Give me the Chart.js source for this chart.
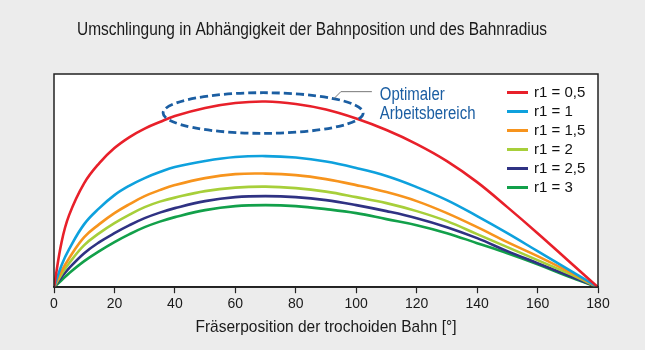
<!DOCTYPE html>
<html lang="de">
<head>
<meta charset="utf-8">
<title>Umschlingung</title>
<script src="https://cdn.jsdelivr.net/npm/chart.js@4.4.1/dist/chart.umd.min.js"></script>
<style>
    html, body { margin: 0; padding: 0; background: #ececec; }
    #wrap { width: 645px; height: 350px; position: relative; }
</style>
</head>
<body>
<div id="wrap"><canvas id="umschlingung-chart"></canvas></div>
<script>
// Fräserposition in Grad (x-Achse)
const positionen = [0, 2.5, 5, 10, 15, 20, 25, 30, 35, 40, 50, 60, 70, 80, 90, 100, 110, 120, 130, 140, 150, 160, 170, 180];
const xTicks = [0, 20, 40, 60, 80, 100, 120, 140, 160, 180];

// Umschlingung je Bahnradius r1 (relative Einheiten)
const r1Labels = ['r1 = 0,5', 'r1 = 1', 'r1 = 1,5', 'r1 = 2', 'r1 = 2,5', 'r1 = 3'];
const umschlingungR05 = [0, 45, 72, 104, 124, 139, 150, 158.5, 165, 171, 179, 184, 185.5, 183, 177.5, 168.5, 157, 143, 126, 105, 80, 54, 27, 0];
const umschlingungR10 = [0, 22, 38, 63, 79, 92, 101.5, 109, 115, 120, 126, 130, 131, 129.5, 125.5, 119, 111, 100, 87, 71, 54, 36, 18, 0];
const umschlingungR15 = [0, 16, 29, 50, 63, 74, 83, 91, 97, 102, 109, 113, 113.5, 112, 108, 102, 95, 86, 74, 60, 45, 31, 16, 0];
const umschlingungR20 = [0, 13, 24, 42, 54, 64, 72.5, 80, 85.5, 89.5, 96, 99.5, 100.5, 99, 95.5, 90, 84, 76, 66, 53, 40, 27, 14, 0];
const umschlingungR25 = [0, 10, 19, 34, 45, 54, 62, 69, 74.5, 79, 86, 90, 91, 90, 87, 82, 76, 69, 60, 49, 36, 24, 12, 0];
const umschlingungR30 = [0, 7, 14, 26, 36, 45, 53, 60, 65.5, 70, 77, 81, 82, 81, 78, 74, 68, 62, 54, 44, 34, 23, 11, 0];
const farben = ['#e8202a', '#0ea1dd', '#f7941d', '#a7cf3a', '#2f3283', '#12a04a'];

// Optimaler Arbeitsbereich: Mitte und Halbachsen in Achseneinheiten
const bereichMitte = [69.2, 174];
const bereichRadius = [33.1, 20.3];
const bereichText = ['Optimaler', 'Arbeitsbereich'];

const titel = 'Umschlingung in Abhängigkeit der Bahnposition und des Bahnradius';
const achsenTitel = 'Fräserposition der trochoiden Bahn [°]';

document.addEventListener('DOMContentLoaded', () => {

    const reihen = [umschlingungR05, umschlingungR10, umschlingungR15, umschlingungR20, umschlingungR25, umschlingungR30];
    const schrift = '"Liberation Sans", Arial, sans-serif';

    // schmal laufende Schrift: Text horizontal gestaucht ausgeben
    function schmalerText(ctx, text, x, y, stauchung) {
        ctx.save();
        ctx.translate(x, y);
        ctx.scale(stauchung, 1);
        ctx.fillText(text, 0, 0);
        ctx.restore();
    }

    // Titel, Rahmen, Achsentitel, Legende und Ellipse selbst zeichnen
    const overlay = {
        id: 'overlay',
        beforeDraw(chart) {
            const { ctx, chartArea: a } = chart;
            ctx.save();
            ctx.fillStyle = '#ffffff';
            ctx.fillRect(a.left, a.top, a.right - a.left, a.bottom - a.top);
            ctx.restore();
        },
        afterDraw(chart) {
            const { ctx, chartArea: a, scales } = chart;
            ctx.save();

            // Rahmen um die Zeichenfläche
            ctx.strokeStyle = '#222';
            ctx.lineWidth = 1.5;
            ctx.strokeRect(a.left, a.top, a.right - a.left, a.bottom - a.top);

            // Überschrift
            ctx.fillStyle = '#1a1a1a';
            ctx.font = '18px ' + schrift;
            ctx.textAlign = 'center';
            ctx.textBaseline = 'middle';
            schmalerText(ctx, titel, 312, 30, 470 / ctx.measureText(titel).width);

            // Achsentitel unter der x-Achse
            ctx.font = '17px ' + schrift;
            schmalerText(ctx, achsenTitel, (a.left + a.right) / 2, 327, 261 / ctx.measureText(achsenTitel).width);

            // Ellipse für den optimalen Arbeitsbereich
            const cx = scales.x.getPixelForValue(bereichMitte[0]);
            const cy = scales.y.getPixelForValue(bereichMitte[1]);
            const rx = scales.x.getPixelForValue(bereichMitte[0] + bereichRadius[0]) - cx;
            const ry = cy - scales.y.getPixelForValue(bereichMitte[1] + bereichRadius[1]);
            ctx.strokeStyle = '#1b5ea2';
            ctx.lineWidth = 2.8;
            ctx.setLineDash([8, 4]);
            ctx.beginPath();
            ctx.ellipse(cx, cy, rx, ry, 0, 0, Math.PI * 2);
            ctx.stroke();
            ctx.setLineDash([]);

            // Hinweislinie zum Text
            const t = -Math.PI / 4;
            const px = cx + rx * Math.cos(t);
            const py = cy + ry * Math.sin(t);
            ctx.strokeStyle = '#777';
            ctx.lineWidth = 1;
            ctx.beginPath();
            ctx.moveTo(px, py);
            ctx.lineTo(px + 7, py - 7);
            ctx.lineTo(px + 38, py - 7);
            ctx.stroke();

            ctx.fillStyle = '#1b5ea2';
            ctx.font = '18px ' + schrift;
            ctx.textAlign = 'left';
            const stauchung = 95.6 / ctx.measureText(bereichText[1]).width;
            schmalerText(ctx, bereichText[0], px + 46, py - 4, stauchung);
            schmalerText(ctx, bereichText[1], px + 46, py + 15.5, stauchung);

            // Legende oben rechts in der Zeichenfläche
            ctx.font = '15px ' + schrift;
            ctx.lineWidth = 3;
            chart.data.datasets.forEach((ds, i) => {
                const y = a.top + 18.5 + i * 19;
                ctx.strokeStyle = ds.borderColor;
                ctx.beginPath();
                ctx.moveTo(a.right - 91, y);
                ctx.lineTo(a.right - 70, y);
                ctx.stroke();
                ctx.fillStyle = '#111';
                ctx.fillText(ds.label, a.right - 64, y + 0.5);
            });
            ctx.restore();
        }
    };

    const ctx = document.getElementById('umschlingung-chart').getContext('2d');
    new Chart(ctx, {
        type: 'line',
        data: {
            datasets: reihen.map((werte, i) => ({
                label: r1Labels[i],
                data: positionen.map((x, j) => ({ x, y: werte[j] })),
                borderColor: farben[i],
                borderWidth: 2.6,
                pointRadius: 0,
                fill: false,
                tension: 0.4
            }))
        },
        options: {
            responsive: true,
            maintainAspectRatio: false,
            animation: false,
            layout: { padding: { left: 54, right: 47, top: 74, bottom: 34 } },
            plugins: {
                legend: { display: false },
                title: { display: false },
                tooltip: { enabled: false }
            },
            scales: {
                x: {
                    type: 'linear',
                    min: 0,
                    max: 180,
                    afterBuildTicks: (scale) => { scale.ticks = xTicks.map(v => ({ value: v })); },
                    grid: { drawOnChartArea: false, tickLength: 6, tickColor: '#222', tickWidth: 1.2 },
                    border: { color: '#222', width: 1.5 },
                    ticks: {
                        color: '#1a1a1a',
                        padding: 3,
                        maxRotation: 0,
                        font: { family: schrift, size: 14 }
                    }
                },
                y: {
                    display: false,
                    min: 0,
                    max: 213
                }
            }
        },
        plugins: [overlay]
    });
});
</script>
</body>
</html>
